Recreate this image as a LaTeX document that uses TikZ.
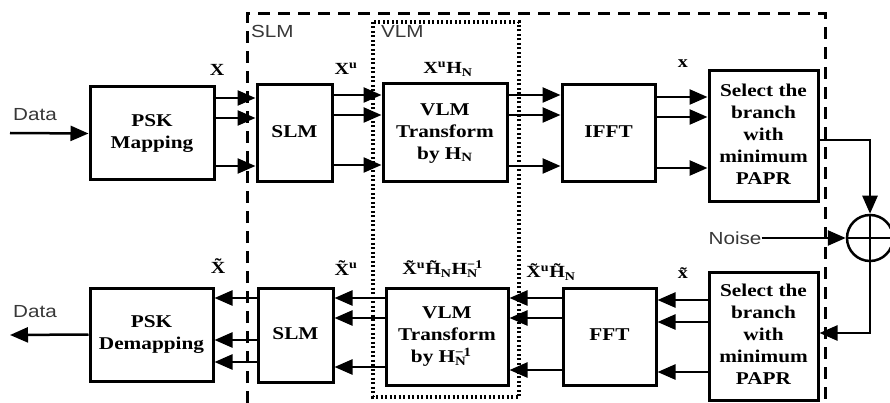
\documentclass[tikz,border=0pt]{standalone}
\usepackage{fontspec}
\usepackage{graphicx}
\setmainfont{Liberation Serif}
\newfontfamily\lsans{Liberation Sans}
\usetikzlibrary{arrows.meta}
\newcommand{\hs}[1]{\scalebox{1.18}[1]{#1}}
\newcommand{\lines}[1]{\hs{\begin{tabular}{@{}c@{}}#1\end{tabular}}}
\newcommand{\supsub}[2]{\rlap{\textsuperscript{#1}}\textsubscript{#2}\hphantom{\textsuperscript{#1}}}
\tikzset{
  blk/.style={draw, line width=3pt, inner sep=0pt, align=center,
    font=\bfseries\fontsize{18}{22}\selectfont},
  arr/.style={line width=2.5pt, -{Triangle[length=18pt,width=15pt]}},
  lab/.style={inner sep=0pt, font=\bfseries\fontsize{17}{20}\selectfont},
  sans/.style={inner sep=0pt, text=black!78, font=\lsans\fontsize{17.5}{20}\selectfont},
  outerbox/.style={line width=3pt, dash pattern=on 12pt off 8pt},
  innerbox/.style={line width=3.5pt, dash pattern=on 2pt off 2.5pt},
}
\begin{document}
\begin{tikzpicture}[x=1pt,y=-1pt]
\useasboundingbox (0,0) rectangle (890,403);

% group frames
\draw[outerbox] (247,403) -- (247,14) -- (825,14) -- (825,403);
\draw[innerbox] (373,22) rectangle (519,397);
\node[sans, anchor=west] (slmlab) at (251,31) {\hs{SLM}};
\node[sans, anchor=west] (vlmlab) at (381,31) {\hs{VLM}};

% top row blocks
\node[blk, minimum width=124pt, minimum height=93pt] (psk1) at (152,133.5) {\lines{PSK\\Mapping}};
\node[blk, minimum width=75pt, minimum height=97pt] (slm1) at (294.5,133.5) {\lines{SLM}};
\node[blk, minimum width=124pt, minimum height=98pt] (vlm1) at (445,133) {\lines{VLM\\Transform\\by H\textsubscript{N}}};
\node[blk, minimum width=93pt, minimum height=97pt] (ifft) at (608.5,133.5) {\lines{IFFT}};
\node[blk, minimum width=109pt, minimum height=131pt] (sel1) at (763.5,136.5) {\lines{Select the\\branch\\with\\minimum\\PAPR}};

% bottom row blocks
\node[blk, minimum width=123pt, minimum height=93pt] (psk2) at (151.5,334.5) {\lines{PSK\\Demapping}};
\node[blk, minimum width=75pt, minimum height=94pt] (slm2) at (295.5,335) {\lines{SLM}};
\node[blk, minimum width=122pt, minimum height=97pt] (vlm2) at (447,336.5) {\lines{VLM\\Transform\\by H\supsub{−1}{N}}};
\node[blk, minimum width=93pt, minimum height=97pt] (fft) at (609.5,336.5) {\lines{FFT}};
\node[blk, minimum width=109pt, minimum height=128pt] (sel2) at (763.5,336) {\lines{Select the\\branch\\with\\minimum\\PAPR}};

% adder and noise
\node[draw, circle, line width=2.5pt, minimum size=46pt, inner sep=0pt] (add) at (870,238) {};
\draw[line width=2.5pt] (add.north) -- (add.south) (add.west) -- (add.east);
\node[sans] (noise) at (735,238) {\hs{Noise}};
\draw[arr] (noise.east) -- (add.west);
\draw[arr] (sel1.east |- 0,140) -| (add.north);
\draw[arr] (add.south) |- (sel2.east |- 0,333);

% data in/out
\coordinate (din) at (10,133);
\coordinate (dout) at (10,335);
\node[sans] (datain) at (35,115) {\hs{Data}};
\node[sans] (dataout) at (35,312) {\hs{Data}};
\draw[arr] (din) -- (psk1.west);
\draw[arr] (psk2.west) -- (dout);

% top row arrows
\foreach \y in {98,118,166} \draw[arr] (psk1.east |- 0,\y) -- (slm1.west |- 0,\y);
\foreach \y in {95,115,165} \draw[arr] (slm1.east |- 0,\y) -- (vlm1.west |- 0,\y);
\foreach \y in {95,115,166} \draw[arr] (vlm1.east |- 0,\y) -- (ifft.west |- 0,\y);
\foreach \y in {97,117,168} \draw[arr] (ifft.east |- 0,\y) -- (sel1.west |- 0,\y);

% bottom row arrows
\foreach \y in {300,322,372} \draw[arr] (sel2.west |- 0,\y) -- (fft.east |- 0,\y);
\foreach \y in {298,318,370} \draw[arr] (fft.west |- 0,\y) -- (vlm2.east |- 0,\y);
\foreach \y in {298,318,367} \draw[arr] (vlm2.west |- 0,\y) -- (slm2.east |- 0,\y);
\foreach \y in {298,340,362} \draw[arr] (slm2.west |- 0,\y) -- (psk2.east |- 0,\y);

% signal labels
\node[lab] (lx) at (217,70) {\hs{X}};
\node[lab] (lxu) at (346,69) {\hs{X\textsuperscript{u}}};
\node[lab] (lxuh) at (448,69) {\hs{X\textsuperscript{u}H\textsubscript{N}}};
\node[lab] (lsx) at (683,64) {\hs{x}};
\node[lab] (ltx) at (218,266) {\hs{\~X}};
\node[lab] (ltxu) at (346,268) {\hs{\~X\textsuperscript{u}}};
\node[lab] (ltxuhh) at (448,269) {\hs{\~X\textsuperscript{u}\~H\textsubscript{N}H\supsub{−1}{N}}};
\node[lab] (ltxuh) at (551,272) {\hs{\~X\textsuperscript{u}\~H\textsubscript{N}}};
\node[lab] (ltsx) at (683,273) {\hs{\~x}};
\end{tikzpicture}
\end{document}
